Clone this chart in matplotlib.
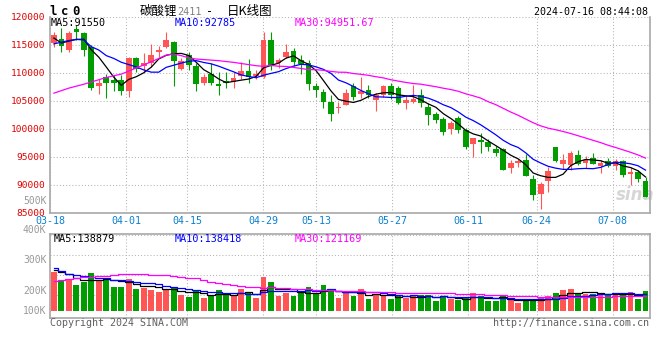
import numpy as np
import pandas as pd
import matplotlib
matplotlib.use('Agg')
import matplotlib.pyplot as plt

plt.rcParams['font.family'] = ['DejaVu Sans Mono', 'Noto Sans CJK SC']

# 日期刻度（交易日序号 -> 标签）
tick_idx = [0, 10, 18, 28, 35, 45, 55, 64, 74]
tick_labels = ['03-18', '04-01', '04-15', '04-29', '05-13', '05-27', '06-11', '06-24', '07-08']

# 日K数据 03-18 ~ 07-15
open_ = [115300, 116000, 114100, 117900, 117100, 114700, 107700, 109300, 108750, 108750,
         106800, 112700, 111300, 111800, 113800, 114700, 115600, 110700, 113300, 111300,
         108300, 109800, 108000, 108600, 108400, 109500, 110400, 109500, 109300, 115900,
         111700, 112800, 113900, 112300, 111700, 107600, 106600, 104900, 103700, 104300,
         107600, 106200, 107000, 105200, 106100, 107600, 107300, 104700, 104900, 106100,
         103900, 102700, 101700, 100000, 101900, 99800, 97300, 98000, 97700, 96400,
         96400, 93100, 93900, 94500, 91000, 88400, 90700, 96700, 93800, 93600,
         95400, 93900, 94900, 93400, 94200, 93400, 94200, 91900, 92400, 90700]
high = [117300, 118000, 117500, 118600, 117400, 115000, 109000, 109900, 109600, 109600,
        112800, 112900, 113500, 115100, 114900, 117400, 115700, 112600, 113700, 111700,
        109800, 111700, 110200, 110100, 110200, 111900, 112500, 110500, 117300, 117300,
        112700, 115200, 114400, 113300, 112300, 108300, 107100, 106000, 104800, 107100,
        108300, 109300, 107900, 106400, 107900, 108300, 107600, 106100, 107800, 107100,
        104600, 103100, 102100, 101500, 102300, 100100, 98400, 99200, 98200, 97000,
        96600, 94500, 94600, 95500, 91800, 90600, 93300, 96800, 95500, 96100,
        96300, 95200, 95800, 94500, 94900, 94600, 94500, 93300, 92700, 91400]
low = [114600, 113800, 113700, 115900, 113000, 107000, 106300, 105600, 106800, 106100,
       105800, 110200, 110200, 111100, 112900, 114400, 107600, 110500, 110500, 106700,
       107900, 107900, 106000, 107400, 107400, 109000, 108300, 109000, 109100, 110500,
       110900, 112600, 111300, 109800, 107000, 105800, 103800, 101400, 102800, 104300,
       105200, 105600, 105500, 103200, 105800, 105400, 104400, 103600, 104700, 104000,
       100700, 101000, 98900, 99100, 99300, 96500, 95000, 95800, 96100, 95200,
       92600, 92200, 93200, 91600, 87300, 85700, 88800, 94100, 92800, 92600,
       93600, 93000, 93700, 92100, 93300, 92600, 91500, 90000, 90600, 87900]
close = [116800, 114900, 117100, 117300, 114100, 107300, 108300, 108300, 108300, 106800,
         112600, 110700, 111800, 113300, 114100, 115900, 112100, 112100, 111500, 108000,
         109300, 108300, 107600, 108200, 109100, 110400, 109300, 109900, 115900, 111300,
         112400, 113800, 111900, 111600, 108000, 106900, 104800, 102700, 104000, 106400,
         105800, 106700, 106100, 106100, 107600, 106100, 104600, 105200, 105400, 104700,
         102500, 101600, 99500, 101100, 99800, 96800, 98400, 97600, 96700, 95700,
         92600, 94000, 94300, 91600, 88200, 90200, 92500, 94300, 94500, 95700,
         93800, 94500, 93800, 93900, 93400, 94200, 91700, 92400, 91000, 87900]
volume = [320000, 244500, 252600, 211900, 238800, 312100, 252600, 271400, 198000, 198000,
          260800, 179300, 189900, 171200, 157300, 179300, 189900, 130400, 116500, 171200,
          108400, 130400, 171200, 130400, 130400, 179300, 157300, 108400, 279500, 238800,
          124700, 149100, 124700, 144300, 198000, 136100, 211900, 179300, 108400, 152400,
          124700, 179300, 97800, 136100, 130400, 97800, 122300, 108400, 130400, 130400,
          130400, 81500, 122300, 97800, 89700, 108400, 144300, 122300, 81500, 81500,
          122300, 89700, 62800, 89700, 89700, 114100, 122300, 144300, 171200, 179300,
          136100, 136100, 136100, 144300, 130400, 136100, 144300, 152400, 97800, 163000]

# 均线开头几天要用到图外的数据，直接从图上读
price_ma5_head = [116250, 115350, 115700, 116000]
price_ma10_head = [115200, 115500, 115800, 116000, 115900, 114700, 114100, 113100, 112600]
price_ma30_head = [106400, 106850, 107300, 107650, 108000, 108400, 108800, 109200, 109500, 109800,
                   110350, 110900, 111450, 112000, 112600, 113200, 113400, 113100, 112700, 112500,
                   112400, 112300, 112200, 112050, 111900, 111700, 111500, 111300, 111200]
vol_ma5_head = [334000, 318000, 301500, 265000]
vol_ma10_head = [348000, 326000, 305600, 293000, 285000, 279500, 273000, 266500, 256700]
vol_ma30_head = [244500, 252000, 260800, 268000, 274700, 279000, 284000, 287700, 293000, 299000,
                 299000, 299000, 299000, 297000, 295000, 293400, 286000, 279500, 273000, 266500,
                 252000, 238800, 228000, 217600, 210000, 203000, 197000, 192000, 190000]

header_price = ['MA5:91550', 'MA10:92785', 'MA30:94951.67']
header_vol = ['MA5:138879', 'MA10:138418', 'MA30:121169']

RED = '#ff5555'
GREEN = '#009c00'
GRID = '#b4b4b4'
FRAME = '#a8a8a8'
MA_COLORS = ['black', '#0000ff', '#ff00ff']
W, H = 660, 360


def ma(values, n, head):
    s = pd.Series(values, dtype=float).rolling(n).mean().values
    s[:n - 1] = head
    return s


def px(x, y):
    # 像素坐标 -> figure 坐标
    return x / W, 1 - y / H


o = np.array(open_, dtype=float)
c = np.array(close, dtype=float)
x = np.arange(len(c))
colors = np.where(c >= o, RED, GREEN)
# sina 的日期网格步长比K线略宽
grid_x = np.array(tick_idx) * 1.0155 - 0.52

fig = plt.figure(figsize=(W / 100, H / 100), dpi=100)
fig.patch.set_facecolor('white')

# ---------- 日K ----------
ax = fig.add_axes([50 / W, 1 - 213 / H, 600 / W, 196 / H])
ax.set_xlim(-0.4, 79.6)
ax.set_ylim(85000, 120000)
ax.vlines(x, low, high, colors=colors, lw=0.8, zorder=3)
body = np.maximum(np.abs(c - o), 80)
ax.bar(x, body, bottom=np.minimum(o, c), width=0.76, color=colors, lw=0, zorder=3)
for n, head, col in zip([5, 10, 30], [price_ma5_head, price_ma10_head, price_ma30_head], MA_COLORS):
    ax.plot(x, ma(c, n, head), color=col, lw=0.9, zorder=4)

ax.set_yticks(range(85000, 120001, 5000))
ax.set_yticklabels([str(v) for v in range(85000, 120001, 5000)], color='#e00000', fontsize=6.8)
ax.set_xticks(grid_x)
ax.set_xticklabels(tick_labels, color='#0a80d0', fontsize=7.2)
ax.tick_params(length=0, pad=2.5)
ax.tick_params(axis='y', pad=3.5)
ax.grid(True, ls=(0, (1, 2)), color=GRID, lw=0.75)
ax.set_axisbelow(True)
for side in ['left', 'bottom', 'right']:
    ax.spines[side].set_color(FRAME)
    ax.spines[side].set_linewidth(1.2)
ax.spines['top'].set_visible(False)

# 水印
ax.text(0.975, 0.09, 'sina', transform=ax.transAxes, ha='center', va='center',
        fontsize=12, fontstyle='italic', fontweight='bold', color='#d6d6d6',
        family='DejaVu Sans', zorder=2)

# ---------- 成交量 ----------
axv = fig.add_axes([50 / W, 1 - 318 / H, 600 / W, 84 / H])
v = np.array(volume, dtype=float)
axv.set_xlim(-0.4, 79.6)
axv.set_ylim(-57000, 627500)
axv.bar(x, v, width=0.77, color=colors, lw=0, zorder=3)
for n, head, col in zip([5, 10, 30], [vol_ma5_head, vol_ma10_head, vol_ma30_head], MA_COLORS):
    axv.plot(x, ma(v, n, head), color=col, lw=0.9, drawstyle='steps-mid', zorder=4)

axv.set_xticks(grid_x)
axv.set_xticklabels([])
axv.set_yticks([])
axv.tick_params(length=0)
axv.grid(True, axis='x', ls=(0, (1, 2)), color=GRID, lw=0.75)
for f in [0.274, 0.512, 0.75, 0.988]:
    axv.plot([0, 1], [f, f], transform=axv.transAxes, ls=(0, (1, 2)), color=GRID, lw=0.75, zorder=1)
axv.set_axisbelow(True)
for side in axv.spines:
    axv.spines[side].set_color(FRAME)
    axv.spines[side].set_linewidth(1.2)

# 成交量刻度（位置照原图）
for lab, f in zip(['100K', '200K', '300K', '400K', '500K'], [0.083, 0.321, 0.690, 1.048, 1.396]):
    axv.text(-0.006, f, lab, transform=axv.transAxes, ha='right', va='center',
             fontsize=7, color='#999999', clip_on=False)

# ---------- 文字 ----------
for i, ch in enumerate('lc0'):
    fig.text(*px(53.5 + i * 11.4, 11.5), ch, ha='center', va='center', fontsize=8.8,
             fontweight='bold', color='black')
cjk = ['Noto Sans CJK SC', 'DejaVu Sans']
fig.text(*px(140, 11.5), '碳酸锂', ha='left', va='center', fontsize=9, family=cjk)
fig.text(*px(177.5, 12), '2411', ha='left', va='center', fontsize=7.3, color='#808080')
fig.text(*px(210, 11.5), '-', ha='center', va='center', fontsize=8.5)
fig.text(*px(226.5, 11.5), '日K线图', ha='left', va='center', fontsize=9, family=cjk)
fig.text(*px(648, 12), '2024-07-16 08:44:08', ha='right', va='center', fontsize=7.2)

for lab, xx, col in zip(header_price, [51, 175, 295], MA_COLORS):
    fig.text(*px(xx, 23.5), lab, ha='left', va='center', fontsize=7.3, color=col)
for lab, xx, col in zip(header_vol, [54, 175, 295], MA_COLORS):
    fig.text(*px(xx, 238.5), lab, ha='left', va='center', fontsize=7.3, color=col)

fig.text(*px(50, 323.5), 'Copyright 2024 SINA.COM', ha='left', va='center', fontsize=7.2, color='#606060')
fig.text(*px(649, 323.5), 'http://finance.sina.com.cn', ha='right', va='center', fontsize=7.2, color='#606060')

fig.savefig('out.png', dpi=100, facecolor='white')
